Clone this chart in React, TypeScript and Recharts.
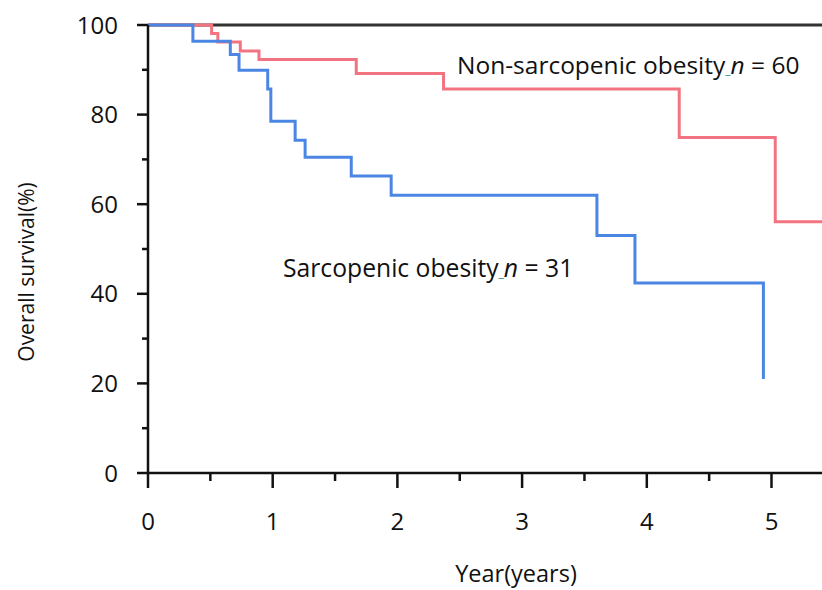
import React from "react";
import { LineChart, Line, XAxis, YAxis, ReferenceLine, Customized } from "recharts";

// Non-sarcopenic obesity (n = 60): time in years, survival %
const nonSarcTime = [0, 0.51, 0.56, 0.74, 0.89, 1.67, 2.37, 4.26, 5.03, 5.405];
const nonSarcSurv = [100, 98.1, 96.2, 94.2, 92.3, 89.2, 85.7, 74.9, 56.1, 56.1];

// Sarcopenic obesity (n = 31)
const sarcTime = [0, 0.36, 0.66, 0.73, 0.96, 0.985, 1.18, 1.26, 1.63, 1.95, 3.6, 3.905, 4.935];
const sarcSurv = [100, 96.4, 93.4, 89.9, 85.7, 78.5, 74.3, 70.5, 66.3, 62.0, 53.0, 42.4, 21.0];

const xTicks = [0, 0.5, 1, 1.5, 2, 2.5, 3, 3.5, 4, 4.5, 5];
const yTicks = [0, 10, 20, 30, 40, 50, 60, 70, 80, 90, 100];

const nonSarcData = nonSarcTime.map((t, i) => ({ t, s: nonSarcSurv[i] }));
const sarcData = sarcTime.map((t, i) => ({ t, s: sarcSurv[i] }));

const FONT = "'Open Sans', sans-serif";

const XTick = (props: any) => {
  const { x, y, payload } = props;
  const major = Number.isInteger(payload.value);
  return (
    <g>
      <line x1={x} y1={y} x2={x} y2={y + (major ? 15 : 8)} stroke="#111" strokeWidth={2.5} />
      {major && (
        <text x={x} y={y + 57} textAnchor="middle" fontFamily={FONT} fontSize={24} fill="#111">
          {payload.value}
        </text>
      )}
    </g>
  );
};

const YTick = (props: any) => {
  const { x, y, payload } = props;
  const major = payload.value % 20 === 0;
  return (
    <g>
      <line x1={x - (major ? 11 : 6)} y1={y} x2={x} y2={y} stroke="#111" strokeWidth={2.5} />
      {major && (
        <text x={x - 30} y={y + 8.5} textAnchor="end" fontFamily={FONT} fontSize={24} fill="#111">
          {payload.value}
        </text>
      )}
    </g>
  );
};

const Annotations = () => (
  <g fontFamily={FONT} fill="#111">
    <text x={457} y={74} fontSize={24.5}>
      Non-sarcopenic obesity
      <tspan fill="#2a9090" fontSize={12}>{"_"}</tspan>
      <tspan fontStyle="italic">n</tspan> = 60
    </text>
    <text x={283} y={277} fontSize={24.7}>
      Sarcopenic obesity
      <tspan fill="#2a9090" fontSize={12}>{"_"}</tspan>
      <tspan fontStyle="italic">n</tspan> = 31
    </text>
    <text x={516} y={582} fontSize={23.5} textAnchor="middle">
      Year(years)
    </text>
    <text x={34} y={272} fontSize={21} textAnchor="middle" transform="rotate(-90 34 272)">
      Overall survival(%)
    </text>
  </g>
);

export default function App() {
  return (
    <div style={{ position: "absolute", left: 0, top: 0, background: "#fff" }}>
      <LineChart width={822} height={590} margin={{ top: 25, right: 0, bottom: 116, left: 147 }}>
        <XAxis
          type="number"
          dataKey="t"
          domain={[0, 5.405]}
          ticks={xTicks}
          interval={0}
          allowDataOverflow
          height={1}
          tickSize={0}
          tickMargin={0}
          tickLine={false}
          tick={<XTick />}
          axisLine={{ stroke: "#111", strokeWidth: 2.5 }}
        />
        <YAxis
          type="number"
          dataKey="s"
          domain={[0, 100]}
          ticks={yTicks}
          interval={0}
          width={1}
          tickSize={0}
          tickMargin={0}
          tickLine={false}
          tick={<YTick />}
          axisLine={{ stroke: "#111", strokeWidth: 2.5 }}
        />
        <ReferenceLine y={100} stroke="#333" strokeWidth={3} />
        <Line
          data={nonSarcData}
          dataKey="s"
          type="stepAfter"
          stroke="#F27480"
          strokeWidth={3}
          dot={false}
          isAnimationActive={false}
        />
        <Line
          data={sarcData}
          dataKey="s"
          type="stepAfter"
          stroke="#4C86E4"
          strokeWidth={3}
          dot={false}
          isAnimationActive={false}
        />
        <Customized component={Annotations} />
      </LineChart>
    </div>
  );
}
